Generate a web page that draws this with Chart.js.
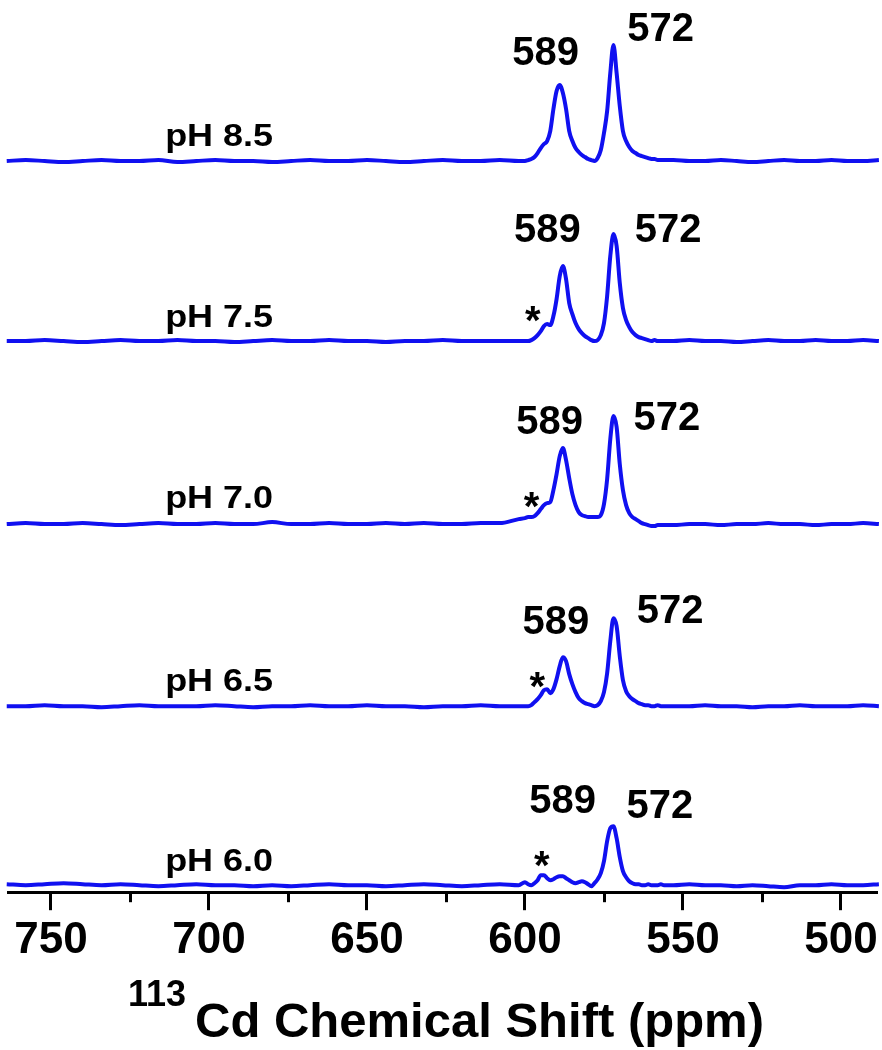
<!DOCTYPE html>
<html>
<head>
<meta charset="utf-8">
<script src="https://cdn.jsdelivr.net/npm/chart.js@4.4.1/dist/chart.umd.min.js"></script>
<style>
html,body{margin:0;padding:0;background:#fff;}
#wrap{width:882px;height:1050px;position:relative;}
</style>
</head>
<body>
<div id="wrap"><canvas id="c" width="882" height="1050"></canvas></div>
<script>
// ---- data (chemical shift grid in ppm, intensities) ----
const shift = [
 764,758,752,746,740,734,728,722,716,710,704,698,692,686,680,674,668,662,656,650,644,638,632,626,620,614,608,602,
 600,599,598,597,596,595,594,593,592,591,590,589,588,587,586,585,584,583,582,581,580,579,578,577,576,575,574,573,572,571,570,569,568,567,566,565,564,563,562,561,560,559,558,557,556,
 553,548,543,538,533,528,523,518,513,508,503,498,493,488
];
const spec85 = [
 0,1,0,-1,0,1,0,0,1,-1,0,1,0,0,-1,0,1,0,0,1,0,-1,0,1,0,0,1,0,
 0,1,2,4,8,13,17,20,30,52,70,76,68,52,30,20,13,9,6,4,2,1,0,3,11,28,50,88,116,88,55,30,20,14,10,8,6,5,4,3,2,2,1,1,1,
 1,0,0,1,0,-1,0,1,0,0,1,0,0,1
];
const spec75 = [
 0,0,1,0,-1,0,1,0,0,1,0,0,-1,0,1,0,0,1,0,0,-1,0,0,1,0,0,0,0,
 0,0,1,3,6,10,15,17,16,25,42,65,75,62,38,27,18,12,8,5,3,1,0,1,6,18,45,85,107,95,58,33,21,14,9,6,4,3,2,1,0,1,0,0,0,
 0,1,0,0,-1,0,1,0,0,1,0,0,1,0
];
const spec70 = [
 0,1,0,0,1,0,-1,0,1,0,0,1,0,0,2,0,0,1,0,0,1,0,1,0,0,1,1,5,
 6,7,7,8,11,15,19,21,22,34,50,68,76,64,46,30,19,12,9,8,7,7,7,7,9,20,45,85,108,97,60,34,19,11,7,5,3,1,0,-1,-2,-2,-1,-1,-1,
 -1,0,0,-1,0,0,1,0,0,-1,0,0,1,0
];
const spec65 = [
 0,0,1,0,0,-1,0,1,0,0,0,1,0,-1,0,0,1,0,0,1,0,0,-1,0,0,1,0,0,
 0,0,1,4,7,11,16,17,13,17,27,40,49,45,32,22,14,8,5,3,2,1,0,1,5,14,33,65,88,80,50,26,15,10,7,5,3,2,1,1,0,0,1,0,0,
 0,0,1,0,0,-1,0,0,1,0,0,0,1,0
];
const spec60 = [
 1,0,1,2,1,0,1,0,-1,0,1,0,0,-1,0,-1,0,1,0,0,-1,0,1,0,-1,0,1,0,
 3,1,0,2,5,10,10,7,5,6,8,9,9,7,5,3,2,3,4,3,1,-1,2,6,12,24,44,57,59,47,28,14,8,4,2,1,1,0,0,1,0,0,0,1,0,
 0,1,0,0,-1,0,-1,-2,0,0,1,0,0,1
];
const seriesNames = ['pH 8.5','pH 7.5','pH 7.0','pH 6.5','pH 6.0'];
const seriesValues = [spec85, spec75, spec70, spec65, spec60];
const peakNames = ['589','572'];
const tickValues = [750,700,650,600,550,500];
const minorTickValues = [725,675,625,575,525];

// ---- layout (stack offsets & annotation anchors in axis units) ----
const offsets = [731,551,368,186,7];
const phLabelAt = {x:696.8, y:[757,576,395,212,32]};
const p589At = [[593.5,841],[592.9,664],[592.2,472],[590.2,272.5],[588.1,93]];
const p572At = [[557.1,865],[554.7,664],[555.1,476],[554.1,283],[557.3,89]];
const starAt = [null,[597.5,581],[597.9,395],[596.1,215],[594.7,36]];

const FONT = "'Liberation Sans', Arial, sans-serif";
const BLUE = '#1010f0';

const datasets = seriesValues.map((vals, k) => ({
  label: seriesNames[k],
  data: shift.map((s, i) => ({x: s, y: vals[i] + offsets[k]})),
  borderColor: BLUE,
  borderWidth: 4,
  pointRadius: 0,
  fill: false,
  cubicInterpolationMode: 'monotone',
  clip: false
}));

function capText(ctx, txt, cx, cy, size, scaleX) {
  ctx.save();
  ctx.font = 'bold ' + size + 'px ' + FONT;
  ctx.textAlign = 'center';
  ctx.textBaseline = 'alphabetic';
  ctx.translate(cx, cy + 0.358 * size);
  ctx.scale(scaleX || 1, 1);
  ctx.fillText(txt, 0, 0);
  ctx.restore();
}

const annot = {
  id: 'annot',
  afterDraw(chart) {
    const ctx = chart.ctx, xs = chart.scales.x, ys = chart.scales.y;
    ctx.save();
    ctx.fillStyle = '#000';
    // minor ticks
    ctx.strokeStyle = '#000';
    ctx.lineWidth = 3;
    const yb = chart.chartArea.bottom;
    minorTickValues.forEach(v => {
      const px = Math.round(xs.getPixelForValue(v)) + 0.5;
      ctx.beginPath(); ctx.moveTo(px, yb); ctx.lineTo(px, yb + 10); ctx.stroke();
    });
    // labels
    for (let k = 0; k < seriesNames.length; k++) {
      capText(ctx, seriesNames[k], xs.getPixelForValue(phLabelAt.x), ys.getPixelForValue(phLabelAt.y[k]), 31, 1.16);
      capText(ctx, peakNames[0], xs.getPixelForValue(p589At[k][0]), ys.getPixelForValue(p589At[k][1]), 40, 1);
      capText(ctx, peakNames[1], xs.getPixelForValue(p572At[k][0]), ys.getPixelForValue(p572At[k][1]), 40, 1);
      if (starAt[k]) {
        ctx.save();
        ctx.font = 'bold 40px ' + FONT;
        ctx.textAlign = 'center';
        ctx.textBaseline = 'alphabetic';
        ctx.fillText('*', xs.getPixelForValue(starAt[k][0]), ys.getPixelForValue(starAt[k][1]) + 0.58 * 40);
        ctx.restore();
      }
    }
    // axis title with superscript
    ctx.textAlign = 'left';
    ctx.textBaseline = 'alphabetic';
    ctx.font = 'bold 36px ' + FONT;
    ctx.fillText('113', 128, 1006);
    ctx.font = 'bold 49px ' + FONT;
    ctx.fillText('Cd Chemical Shift (ppm)', 195, 1037);
    ctx.restore();
  }
};

new Chart(document.getElementById('c'), {
  type: 'line',
  data: {datasets},
  options: {
    responsive: false,
    animation: false,
    devicePixelRatio: 1,
    plugins: {legend: {display: false}, tooltip: {enabled: false}, title: {display: false}},
    layout: {padding: {left: 8, right: 5, top: 0, bottom: 79}},
    scales: {
      x: {
        type: 'linear',
        reverse: true,
        min: 488.6,
        max: 763.6,
        position: 'bottom',
        afterBuildTicks: (s) => { s.ticks = tickValues.map(v => ({value: v})); },
        grid: {drawOnChartArea: false, drawTicks: true, tickLength: 18, tickWidth: 3, tickColor: '#000'},
        border: {display: true, width: 3, color: '#000'},
        ticks: {color: '#000', padding: 4, maxRotation: 0, autoSkip: false,
                font: {family: FONT, weight: 'bold', size: 44}}
      },
      y: {
        type: 'linear',
        display: false,
        min: 0,
        max: 892
      }
    }
  },
  plugins: [annot]
});
</script>
</body>
</html>
